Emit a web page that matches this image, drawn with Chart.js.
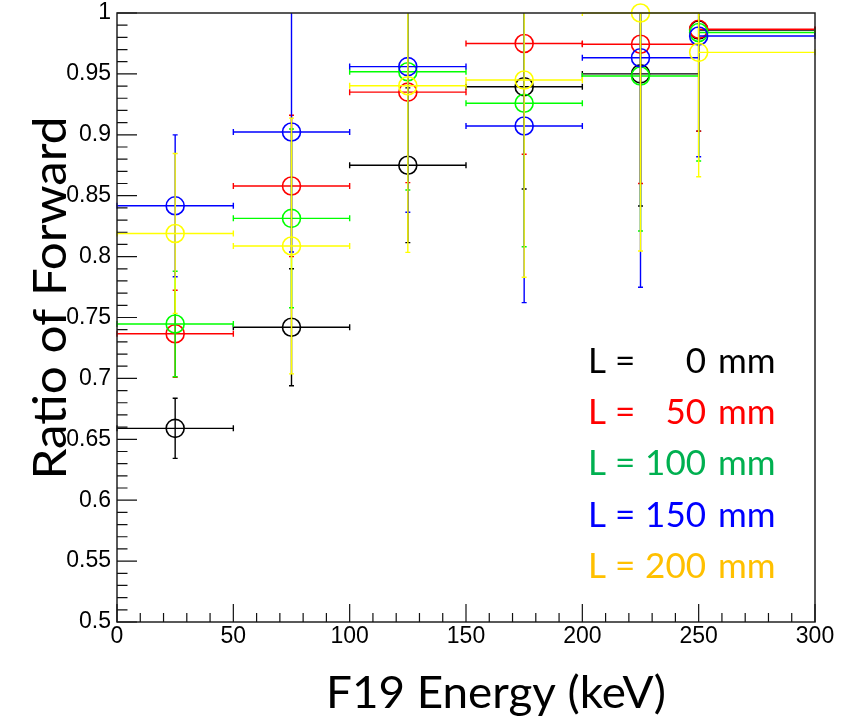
<!DOCTYPE html>
<html>
<head>
<meta charset="utf-8">
<script src="https://cdn.jsdelivr.net/npm/chart.js@4.4.1/dist/chart.umd.min.js"></script>
<style>
  html, body { margin: 0; padding: 0; background: #fff; }
</style>
</head>
<body>
<canvas id="chart" width="851" height="721"></canvas>
<script>
// bins of F19 energy (keV)
const binCenters = [25, 75, 125, 175, 225, 250];
const binLow = [0, 50, 100, 150, 200, 250];
const binHigh = [50, 100, 150, 200, 250, 300];

// ratio of forward and its error, one pair per distance L
const ratioL0 = [0.659, 0.742, 0.875, 0.9395, 0.950, 0.986];
const errL0 = [0.0247, 0.048, 0.0635, 0.084, 0.1085, 0.083];
const ratioL50 = [0.7367, 0.858, 0.935, 0.975, 0.9743, 0.9866];
const errL50 = [0.0357, 0.058, 0.0743, 0.091, 0.1143, 0.0836];
const ratioL100 = [0.7447, 0.8314, 0.9518, 0.9259, 0.9483, 0.984];
const errL100 = [0.0433, 0.0734, 0.0971, 0.1178, 0.1273, 0.1055];
const ratioL150 = [0.8417, 0.9023, 0.956, 0.9072, 0.9633, 0.9811];
const errL150 = [0.0582, 0.0985, 0.1196, 0.145, 0.1885, 0.0991];
const ratioL200 = [0.819, 0.8087, 0.9403, 0.945, 1.0, 0.9677];
const errL200 = [0.0656, 0.105, 0.1368, 0.162, 0.1954, 0.1021];

const seriesRatios = [ratioL0, ratioL50, ratioL100, ratioL150, ratioL200];
const seriesErrors = [errL0, errL50, errL100, errL150, errL200];
const seriesLabels = ['0', '50', '100', '150', '200'];
const markerColors = ['#000000', '#ff0000', '#00ff00', '#0000ff', '#ffff00'];
const legendColors = ['#000000', '#ff0000', '#00b050', '#0000ff', '#ffc000'];

const xTickValues = [0, 50, 100, 150, 200, 250, 300];
const yTickValues = [0.5, 0.55, 0.6, 0.65, 0.7, 0.75, 0.8, 0.85, 0.9, 0.95, 1];
const yTickLabels = ['0.5', '0.55', '0.6', '0.65', '0.7', '0.75', '0.8', '0.85', '0.9', '0.95', '1'];

const xTitle = 'F19 Energy (keV)';
const yTitle = 'Ratio of Forward';

const datasets = seriesRatios.map((vals, i) => ({
  label: 'L = ' + seriesLabels[i] + ' mm',
  data: vals.map((v, j) => ({ x: binCenters[j], y: v })),
  borderColor: markerColors[i],
  backgroundColor: 'rgba(0,0,0,0)',
  pointRadius: 9,
  pointBorderWidth: 1.6,
  showLine: false,
  clip: false,
  order: seriesRatios.length - i
}));

// error bars, inside ticks, frame, titles and the text legend (ROOT style)
const rootPlot = {
  id: 'rootPlot',
  beforeDatasetDraw(chart, args) {
    const ctx = chart.ctx;
    const xs = chart.scales.x, ys = chart.scales.y;
    const area = chart.chartArea;
    const i = args.index;
    const vals = seriesRatios[i], errs = seriesErrors[i];
    ctx.save();
    ctx.beginPath();
    ctx.rect(area.left - 1, area.top - 1, area.right - area.left + 2, area.bottom - area.top + 2);
    ctx.clip();
    ctx.strokeStyle = markerColors[i];
    ctx.lineWidth = 1.4;
    for (let j = 0; j < vals.length; j++) {
      const y = ys.getPixelForValue(vals[j]);
      const x = xs.getPixelForValue(binCenters[j]);
      const x0 = xs.getPixelForValue(binLow[j]);
      const x1 = xs.getPixelForValue(binHigh[j]);
      const yTop = ys.getPixelForValue(vals[j] + errs[j]);
      const yBot = ys.getPixelForValue(vals[j] - errs[j]);
      ctx.beginPath();
      ctx.moveTo(x0, y); ctx.lineTo(x1, y);
      ctx.moveTo(x0, y - 3); ctx.lineTo(x0, y + 3);
      ctx.moveTo(x1, y - 3); ctx.lineTo(x1, y + 3);
      ctx.moveTo(x, Math.max(yTop, area.top)); ctx.lineTo(x, Math.min(yBot, area.bottom));
      if (yTop >= area.top) { ctx.moveTo(x - 2.5, yTop); ctx.lineTo(x + 2.5, yTop); }
      if (yBot <= area.bottom) { ctx.moveTo(x - 2.5, yBot); ctx.lineTo(x + 2.5, yBot); }
      ctx.stroke();
    }
    ctx.restore();
  },
  afterDraw(chart) {
    const ctx = chart.ctx;
    const xs = chart.scales.x, ys = chart.scales.y;
    const a = chart.chartArea;
    ctx.save();
    // frame
    ctx.strokeStyle = '#222';
    ctx.lineWidth = 1.5;
    ctx.strokeRect(a.left, a.top, a.right - a.left, a.bottom - a.top);
    // ticks inside the frame
    ctx.lineWidth = 1.2;
    ctx.strokeStyle = '#111';
    ctx.beginPath();
    for (let k = 0; k <= 50; k++) {
      const y = ys.getPixelForValue(0.5 + k * 0.01);
      const len = k % 5 === 0 ? 20 : 10.5;
      ctx.moveTo(a.left, y); ctx.lineTo(a.left + len, y);
    }
    for (let k = 0; k <= 30; k++) {
      const x = xs.getPixelForValue(k * 10);
      const len = k % 5 === 0 ? 18 : 9;
      ctx.moveTo(x, a.bottom); ctx.lineTo(x, a.bottom - len);
    }
    ctx.stroke();

    ctx.fillStyle = '#000';
    // y title
    ctx.font = '47px Lato';
    let w = ctx.measureText(yTitle).width;
    ctx.save();
    ctx.translate(66, 298);
    ctx.rotate(-Math.PI / 2);
    ctx.scale(363 / w, 1);
    ctx.textAlign = 'center';
    ctx.textBaseline = 'alphabetic';
    ctx.fillText(yTitle, 0, 0);
    ctx.restore();
    // x title
    ctx.font = '44px Lato';
    w = ctx.measureText(xTitle).width;
    ctx.save();
    ctx.translate(496, 708);
    ctx.scale(340 / w, 1);
    ctx.textAlign = 'center';
    ctx.textBaseline = 'alphabetic';
    ctx.fillText(xTitle, 0, 0);
    ctx.restore();

    // legend text
    ctx.font = '35px Lato';
    ctx.textBaseline = 'alphabetic';
    const baselines = [373, 424, 475, 527, 578];
    seriesLabels.forEach((lab, i) => {
      ctx.fillStyle = legendColors[i];
      ctx.textAlign = 'left';
      ctx.fillText('L =', 588, baselines[i]);
      ctx.textAlign = 'right';
      ctx.fillText(lab, 706, baselines[i]);
      ctx.textAlign = 'left';
      ctx.fillText('mm', 718, baselines[i]);
    });
    ctx.restore();
  }
};

const noPad = (s) => { s.paddingTop = 0; s.paddingBottom = 0; s.paddingLeft = 0; s.paddingRight = 0; };

new Chart(document.getElementById('chart'), {
  type: 'scatter',
  data: { datasets },
  options: {
    responsive: false,
    animation: false,
    layout: { padding: { left: 0, right: 36, top: 13, bottom: 0 } },
    plugins: {
      legend: { display: false },
      tooltip: { enabled: false }
    },
    scales: {
      x: {
        type: 'linear',
        min: 0,
        max: 300,
        afterFit: (s) => { s.height = 99; noPad(s); },
        afterBuildTicks: (s) => { s.ticks = xTickValues.map(v => ({ value: v })); },
        grid: { display: false, drawTicks: false },
        border: { display: false },
        ticks: {
          padding: 3,
          color: '#000',
          autoSkip: false,
          maxRotation: 0,
          font: { family: '"Liberation Sans", Arial, sans-serif', size: 23, lineHeight: 1 }
        }
      },
      y: {
        type: 'linear',
        min: 0.5,
        max: 1,
        afterFit: (s) => { s.width = 117; noPad(s); },
        afterBuildTicks: (s) => { s.ticks = yTickValues.map(v => ({ value: v })); },
        grid: { display: false, drawTicks: false },
        border: { display: false },
        ticks: {
          padding: 6,
          color: '#000',
          autoSkip: false,
          callback: (v) => yTickLabels[yTickValues.indexOf(v)] ?? '',
          font: { family: '"Liberation Sans", Arial, sans-serif', size: 23, lineHeight: 1 }
        }
      }
    }
  },
  plugins: [rootPlot]
});
</script>
</body>
</html>
